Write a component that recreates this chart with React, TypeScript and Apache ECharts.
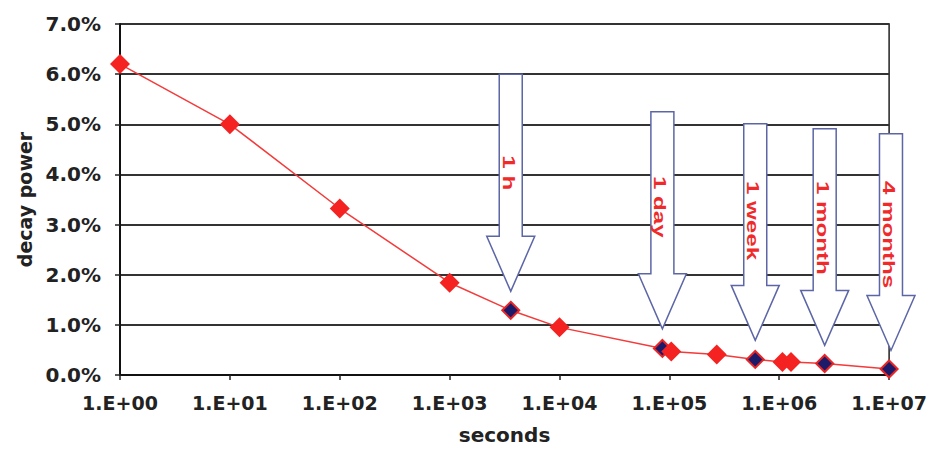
import React, { useEffect, useRef } from "react";
import * as echarts from "echarts";

const seconds = [1, 10, 100, 1000, 3600, 10000, 86400, 104000, 270000, 604800, 1070000, 1280000, 2592000, 10000000];
const decayPower = [6.2, 5.0, 3.32, 1.84, 1.29, 0.95, 0.53, 0.47, 0.41, 0.31, 0.26, 0.26, 0.23, 0.12];
const highlighted = [false, false, false, false, true, false, true, false, false, true, false, false, true, true];

const xTickLabels = ["1.E+00", "1.E+01", "1.E+02", "1.E+03", "1.E+04", "1.E+05", "1.E+06", "1.E+07"];
const yTickLabels = ["0.0%", "1.0%", "2.0%", "3.0%", "4.0%", "5.0%", "6.0%", "7.0%"];

const arrowLabels = ["1 h", "1 day", "1 week", "1 month", "4 months"];
const arrowSeconds = [3600, 86400, 604800, 2592000, 10400000];
const arrowTopValue = [6.0, 5.25, 5.01, 4.91, 4.81];
const arrowTipValue = [1.67, 0.92, 0.69, 0.59, 0.49];
const arrowLabelTopValue = [4.38, 3.97, 3.87, 3.87, 3.87];

export default function App() {
  const ref = useRef<HTMLDivElement>(null);
  useEffect(() => {
    document.body.style.margin = "0";
    if (!ref.current) return;
    const chart = echarts.init(ref.current, undefined, { renderer: "svg" });
    const lineData = seconds.map((s, i) =>
      highlighted[i]
        ? {
            value: [s, decayPower[i]],
            symbolSize: 17,
            itemStyle: { color: "#1b1b6a", borderColor: "#e82626", borderWidth: 2 },
          }
        : { value: [s, decayPower[i]] }
    );
    const arrowData = arrowLabels.map((name, i) => ({
      name,
      value: [arrowSeconds[i], arrowTopValue[i], arrowTipValue[i], arrowLabelTopValue[i]],
    }));
    const labelFont = { fontFamily: "DejaVu Sans", fontWeight: "bold" as const, color: "#222" };
    chart.setOption({
      animation: false,
      backgroundColor: "#ffffff",
      grid: {
        left: 120,
        right: 40,
        top: 24,
        bottom: 70,
        show: true,
        borderColor: "#222",
        borderWidth: 1.5,
      },
      xAxis: {
        type: "log",
        logBase: 10,
        min: 1,
        max: 10000000,
        name: "seconds",
        nameLocation: "middle",
        nameGap: 50,
        nameTextStyle: { ...labelFont, fontSize: 20 },
        axisLine: { show: true, lineStyle: { color: "#111", width: 2 } },
        axisTick: { show: true, length: 5, lineStyle: { color: "#222", width: 1.5 } },
        axisLabel: {
          ...labelFont,
          fontSize: 19,
          margin: 18,
          formatter: (v: number) => xTickLabels[Math.round(Math.log10(v))] ?? "",
        },
        splitLine: { show: false },
        minorTick: { show: false },
      },
      yAxis: {
        type: "value",
        min: 0,
        max: 7,
        interval: 1,
        name: "decay power",
        nameLocation: "middle",
        nameGap: 86,
        nameTextStyle: { ...labelFont, fontSize: 19 },
        axisLine: { show: true, lineStyle: { color: "#111", width: 2 } },
        axisTick: { show: true, length: 5, lineStyle: { color: "#222", width: 1.5 } },
        axisLabel: {
          ...labelFont,
          fontSize: 20,
          margin: 19,
          formatter: (v: number) => yTickLabels[Math.round(v)] ?? "",
        },
        splitLine: { show: true, lineStyle: { color: "#333", width: 1.8 } },
      },
      series: [
        {
          type: "custom",
          z: 3,
          clip: false,
          data: arrowData,
          renderItem: (params: any, api: any) => {
            const x = api.value(0);
            const top = api.coord([x, api.value(1)]);
            const tip = api.coord([x, api.value(2)]);
            const lab = api.coord([x, api.value(3)]);
            const cx = tip[0];
            const sw = 11.5;
            const hw = 24;
            const base = tip[1] - 55;
            const name = arrowLabels[params.dataIndex];
            return {
              type: "group",
              children: [
                {
                  type: "polygon",
                  shape: {
                    points: [
                      [cx - sw, top[1]],
                      [cx + sw, top[1]],
                      [cx + sw, base],
                      [cx + hw, base],
                      [cx, tip[1]],
                      [cx - hw, base],
                      [cx - sw, base],
                    ],
                  },
                  style: { fill: "#ffffff", stroke: "#5c66a6", lineWidth: 1.5 },
                },
                {
                  type: "text",
                  x: cx - 2,
                  y: lab[1],
                  rotation: -Math.PI / 2,
                  scaleX: 1.42,
                  scaleY: 1,
                  style: {
                    text: name,
                    fill: "#f02a2a",
                    fontSize: 17,
                    fontWeight: "bold",
                    fontFamily: "Liberation Sans",
                    align: "left",
                    verticalAlign: "middle",
                    textAlign: "left",
                    textVerticalAlign: "middle",
                  },
                },
              ],
            };
          },
        },
        {
          type: "line",
          z: 4,
          data: lineData,
          symbol: "diamond",
          symbolSize: 20,
          lineStyle: { color: "#f43a3a", width: 1.5 },
          itemStyle: { color: "#f52222" },
          clip: false,
        },
      ],
    });
    return () => chart.dispose();
  }, []);
  return <div ref={ref} style={{ width: 930, height: 450 }} />;
}
